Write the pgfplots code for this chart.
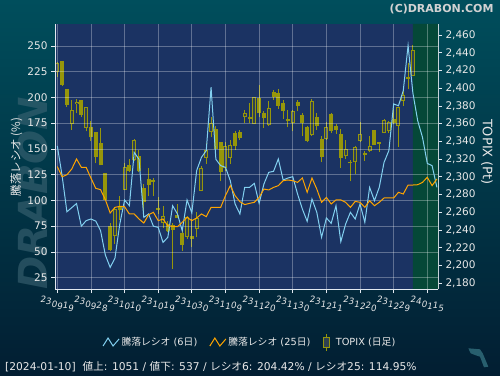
\documentclass[border=0pt]{standalone}
\usepackage{pgfplots}
\pgfplotsset{compat=1.18}
\usepackage{pgfplotstable}
\usepackage{fontspec}
\setmainfont{DejaVu Sans}
\newfontfamily\jp{Noto Sans CJK JP}
\definecolor{plotbg}{RGB}{27,51,99}
\definecolor{greenbg}{RGB}{5,72,56}
\definecolor{candle}{RGB}{150,150,10}
\definecolor{hollowfill}{RGB}{46,64,82}
\definecolor{sky}{RGB}{130,208,240}
\definecolor{orng}{RGB}{255,165,0}
\definecolor{txt}{RGB}{232,232,232}
\definecolor{axl}{RGB}{225,232,240}
\definecolor{bgtop}{RGB}{0,78,92}
\definecolor{bgmid}{RGB}{4,46,64}
\definecolor{bgbot}{RGB}{2,30,50}
\definecolor{wm}{RGB}{60,100,115}
\definecolor{icon}{RGB}{40,95,110}

\newcommand\wv[6]{\raisebox{0pt}{#1}\raisebox{-1.7pt}{#2}\raisebox{-4.7pt}{#3}\raisebox{-6.7pt}{#4}\raisebox{-5.7pt}{#5}\raisebox{-9pt}{#6}}

% down (filled) candles
\pgfplotstableread{
i O H L C
1 2430.2 2431.0 2402.4 2403.5
2 2398.6 2398.6 2379.0 2381.4
5 2386.2 2386.2 2367.8 2370.1
7 2355.8 2363.3 2340.8 2344.5
8 2350.2 2350.2 2315.2 2322.0
9 2338.1 2355.0 2313.0 2313.0
10 2304.0 2304.0 2274.2 2274.2
11 2244.2 2248.0 2216.7 2217.5
13 2266.0 2278.4 2251.3 2262.2
15 2313.3 2320.1 2305.1 2307.0
17 2323.5 2330.3 2305.1 2307.0
18 2287.4 2291.9 2261.9 2272.0
19 2297.9 2310.0 2278.8 2291.2
20 2296.8 2298.7 2278.8 2293.8
21 2264.8 2277.6 2258.1 2263.0
23 2246.8 2250.6 2237.4 2238.6
24 2245.7 2247.6 2196.1 2240.4
25 2257.0 2269.4 2253.6 2253.6
26 2236.3 2243.8 2216.8 2223.5
28 2233.3 2252.1 2221.3 2229.9
33 2353.5 2357.7 2327.6 2331.4
34 2338.9 2338.9 2295.0 2305.1
37 2349.0 2351.3 2330.2 2335.1
38 2350.2 2352.8 2341.5 2343.8
40 2367.4 2382.9 2360.3 2365.2
42 2388.9 2403.5 2367.1 2371.6
43 2371.6 2373.8 2355.0 2365.9
45 2395.3 2397.9 2386.6 2389.6
46 2394.1 2398.6 2376.5 2380.2
47 2383.6 2386.6 2365.2 2374.6
48 2365.2 2375.3 2355.8 2363.3
50 2384.0 2386.6 2373.8 2380.2
51 2370.1 2371.6 2346.4 2360.7
52 2355.8 2357.7 2338.9 2340.8
54 2367.8 2371.6 2352.8 2357.7
55 2342.6 2346.4 2316.4 2322.7
57 2370.8 2371.6 2349.0 2352.1
58 2357.0 2359.6 2348.3 2352.8
59 2348.3 2353.9 2310.0 2320.9
61 2317.1 2319.0 2295.0 2315.2
64 2326.9 2329.5 2318.2 2324.2
66 2352.8 2352.8 2336.3 2336.3
67 2339.3 2339.3 2328.4 2337.0
70 2365.2 2376.5 2359.6 2360.7
73 2412.2 2428.3 2398.7 2409.9
}\downtab

% up (hollow) candles
\pgfplotstableread{
i O H L C
0 2417.8 2429.8 2412.9 2428.0
3 2359.6 2386.6 2352.8 2375.0
4 2381.7 2387.4 2371.6 2384.0
6 2354.7 2378.4 2351.3 2378.4
12 2233.7 2266.4 2224.3 2263.7
14 2285.5 2315.2 2285.5 2310.7
16 2319.0 2342.6 2317.5 2341.5
22 2247.6 2266.7 2242.3 2255.5
27 2232.5 2256.2 2229.9 2254.3
29 2241.2 2260.0 2231.8 2253.6
30 2284.4 2311.8 2283.6 2310.0
31 2321.2 2337.8 2314.5 2330.2
32 2350.2 2367.8 2344.5 2360.3
35 2310.0 2338.9 2307.0 2334.4
36 2320.8 2341.5 2314.5 2336.3
39 2367.8 2375.3 2360.3 2371.6
41 2359.6 2389.6 2359.6 2389.6
44 2358.4 2385.1 2357.7 2377.2
49 2360.3 2375.3 2351.3 2373.8
53 2347.5 2387.7 2346.4 2385.1
56 2342.6 2361.4 2341.5 2356.6
60 2323.5 2341.5 2320.1 2331.0
62 2316.4 2335.1 2303.2 2333.3
63 2340.8 2361.4 2338.9 2348.3
65 2329.5 2346.4 2327.6 2335.1
68 2349.8 2365.2 2349.0 2364.4
69 2351.3 2363.3 2349.0 2361.4
71 2357.7 2378.4 2334.0 2378.4
72 2385.9 2397.9 2380.2 2392.6
74 2414.0 2449.0 2414.0 2443.0
}\uptab

% ratio lines
\pgfplotstableread{
i r6 r25
0 153 133
1 124 123
2 89 125
3 93 130.5
4 97 140.3
5 75 132.2
6 80.4 132.2
7 82 121.8
8 80 111.8
9 70.7 110.5
10 47 100.8
11 35 87.8
12 44 93.3
13 77 94.3
14 100.4 94
15 95 86.9
16 146.7 86.9
17 140 82
18 83.6 78.1
19 86.9 86.2
20 75 88.5
21 73.9 80.4
22 59.3 82
23 64.2 75.5
24 94.9 74.9
25 86.9 74.5
26 70.7 78.8
27 100.5 83.6
28 88 80.4
29 129 83
30 141.9 86.9
31 148.4 84.3
32 210 93.3
33 140 93.3
34 133.8 93.3
35 132.2 104.7
36 119.2 114.4
37 96.6 104.7
38 86.9 98.8
39 112.7 96
40 112.7 97.2
41 116.6 98.2
42 97.2 103
43 116 111.1
44 127.3 110.2
45 128.3 112.7
46 140.3 114.4
47 119.9 119.2
48 121.8 119.9
49 123.1 119.2
50 106.3 117.6
51 91.7 121.8
52 79.7 107.9
53 101.4 121.8
54 88.5 111.1
55 64.2 98.2
56 83 103
57 77.8 96.6
58 94.9 100.5
59 60 100.5
60 77.1 98.2
61 88.5 93.3
62 82 99.1
63 96.6 98.2
64 78.8 93.3
65 112.7 99.8
66 99.8 94.9
67 112.7 98.2
68 137 102.4
69 148.4 102.4
70 193.7 102.4
71 192 107.9
72 206.6 106.3
73 250.5 115
74 204.4 115
75 177.5 115.3
76 161.3 117.6
77 136 122.5
78 133.8 114.4
79 112.7 120.9
}\ratiotab

\pgfplotsset{
  common/.style={
    at={(55pt,86pt)}, anchor=south west, width=383pt, height=265pt, scale only axis,
    xmin=-0.48, xmax=79.23,
    axis line style={axl, line width=1pt},
    tick style={axl, line width=0.8pt}, tick align=outside, major tick length=4pt,
    xtick={0,7,...,77},
    major grid style={white, opacity=0.3, line width=0.8pt},
    ticklabel style={font=\fontsize{10.5}{12}\selectfont, text=txt},
    /pgf/number format/assume math mode=true,
  },
  wick/.style={forget plot, draw=none, mark=none,
    error bars/.cd, y dir=plus, y explicit, error mark=none,
    error bar style={draw=candle, line width=1pt, solid}},
  body/.style={forget plot, draw=none, mark=none,
    error bars/.cd, y dir=plus, y explicit, error mark=none,
    error bar style={draw=#1, line width=4pt, solid}},
  inner/.style={forget plot, draw=none, mark=none,
    error bars/.cd, y dir=plus, y explicit, error mark=none,
    error bar style={draw=hollowfill, line width=2pt, solid}},
  skyleg/.style={legend image code/.code={\draw[sky, line width=1pt] (0pt,-4pt)--(5pt,4pt)--(10pt,-4pt)--(16pt,3pt);}},
  orngleg/.style={legend image code/.code={\draw[orng, line width=1pt] (0pt,-4pt)--(5pt,4pt)--(10pt,-4pt)--(16pt,3pt);}},
  candleg/.style={legend image code/.code={\path (0pt,0pt) (11pt,0pt); \draw[candle, line width=1pt] (4pt,-8.5pt)--(4pt,8.5pt); \draw[candle, line width=1pt, fill=hollowfill] (1pt,-5pt) rectangle (7pt,5pt);}},
}

\begin{document}
\begin{tikzpicture}
\useasboundingbox (0,0) rectangle (500pt,375pt);
\shade[top color=bgtop, middle color=bgmid, bottom color=bgbot] (0,0) rectangle (500pt,375pt);
\node[rotate=90, text=wm, opacity=0.6, font=\bfseries\itshape\fontsize{40}{40}\selectfont] at (33pt,182pt) {DRABON};
\fill[icon] (468.3pt,26.7pt) -- (480pt,25.7pt) -- (482.7pt,21.7pt) -- (488.3pt,8.3pt) -- (484pt,7.7pt) -- (480pt,18.3pt) -- (475pt,20pt) -- (470.7pt,21.7pt) -- cycle;

% TOPIX axis (right)
\begin{axis}[common,
  ymin=2173.57, ymax=2472.4,
  axis background/.style={fill=plotbg},
  axis x line*=bottom, axis y line*=right,
  xticklabels={},
  ytick={2180,2200,...,2460},
  /pgf/number format/1000 sep={,},
]
\addplot[fill=greenbg, draw=none, forget plot]
  coordinates {(74,2173.57) (79.3,2173.57) (79.3,2472.4) (74,2472.4) (74,2173.57)};
\addplot[wick] table[x=i, y=L, y error plus expr={\thisrow{H}-\thisrow{L}}] {\downtab};
\addplot[wick] table[x=i, y=L, y error plus expr={\thisrow{H}-\thisrow{L}}] {\uptab};
\addplot[body=candle] table[x=i, y=C, y error plus expr={\thisrow{O}-\thisrow{C}}] {\downtab};
\addplot[body=candle] table[x=i, y=O, y error plus expr={\thisrow{C}-\thisrow{O}}] {\uptab};
\addplot[inner] table[x=i, y expr={\thisrow{O}+1.13}, y error plus expr={max(\thisrow{C}-\thisrow{O}-2.26,0)}] {\uptab};
\end{axis}

% ratio axis (left)
\begin{axis}[common,
  ymin=14.03, ymax=271.36,
  axis x line*=bottom, axis y line*=left,
  ytick={25,50,...,250}, ymajorgrids, xmajorgrids,
  xticklabels={\wv230919,\wv230928,\wv231010,\wv231019,\wv231030,\wv231109,\wv231120,\wv231130,\wv231211,\wv231220,\wv231229,\wv240115},
  xticklabel style={font=\itshape\fontsize{8.7}{11}\selectfont, anchor=north, inner xsep=0pt},
  legend style={at={(0.509,-0.2)}, anchor=center, legend columns=3, draw=none, fill=none,
    text=txt, font=\fontsize{9.8}{11}\selectfont,
    /tikz/every even column/.append style={column sep=10pt}},
]
\addplot[sky, line width=1pt, skyleg] table[x=i, y=r6] {\ratiotab};
\addlegendentry{{\jp 騰落レシオ} (6{\jp 日})}
\addplot[orng, line width=1pt, orngleg] table[x=i, y=r25] {\ratiotab};
\addlegendentry{{\jp 騰落レシオ} (25{\jp 日})}
\addlegendimage{candleg}
\addlegendentry{TOPIX ({\jp 日足})}
\end{axis}

\node[rotate=90, text=txt, font=\jp\fontsize{11.5}{12}\selectfont] at (16.5pt,218pt) {騰落レシオ (\%)};
\node[rotate=-90, text=txt, font=\fontsize{13}{14}\selectfont] at (487pt,223pt) {TOPIX (Pt)};
\node[anchor=north east, text={rgb,255:red,210;green,210;blue,210}, font=\bfseries\fontsize{11}{12}\selectfont] at (497pt,374pt) {(C)DRABON.COM};
\node[anchor=west, text=txt, font=\fontsize{10.7}{12}\selectfont, inner sep=0pt] at (5pt,8.5pt) {[2024-01-10]\ \ {\jp 値上}: 1051 / {\jp 値下}: 537 / {\jp レシオ}6: 204.42\% / {\jp レシオ}25: 114.95\%};
\end{tikzpicture}
\end{document}
